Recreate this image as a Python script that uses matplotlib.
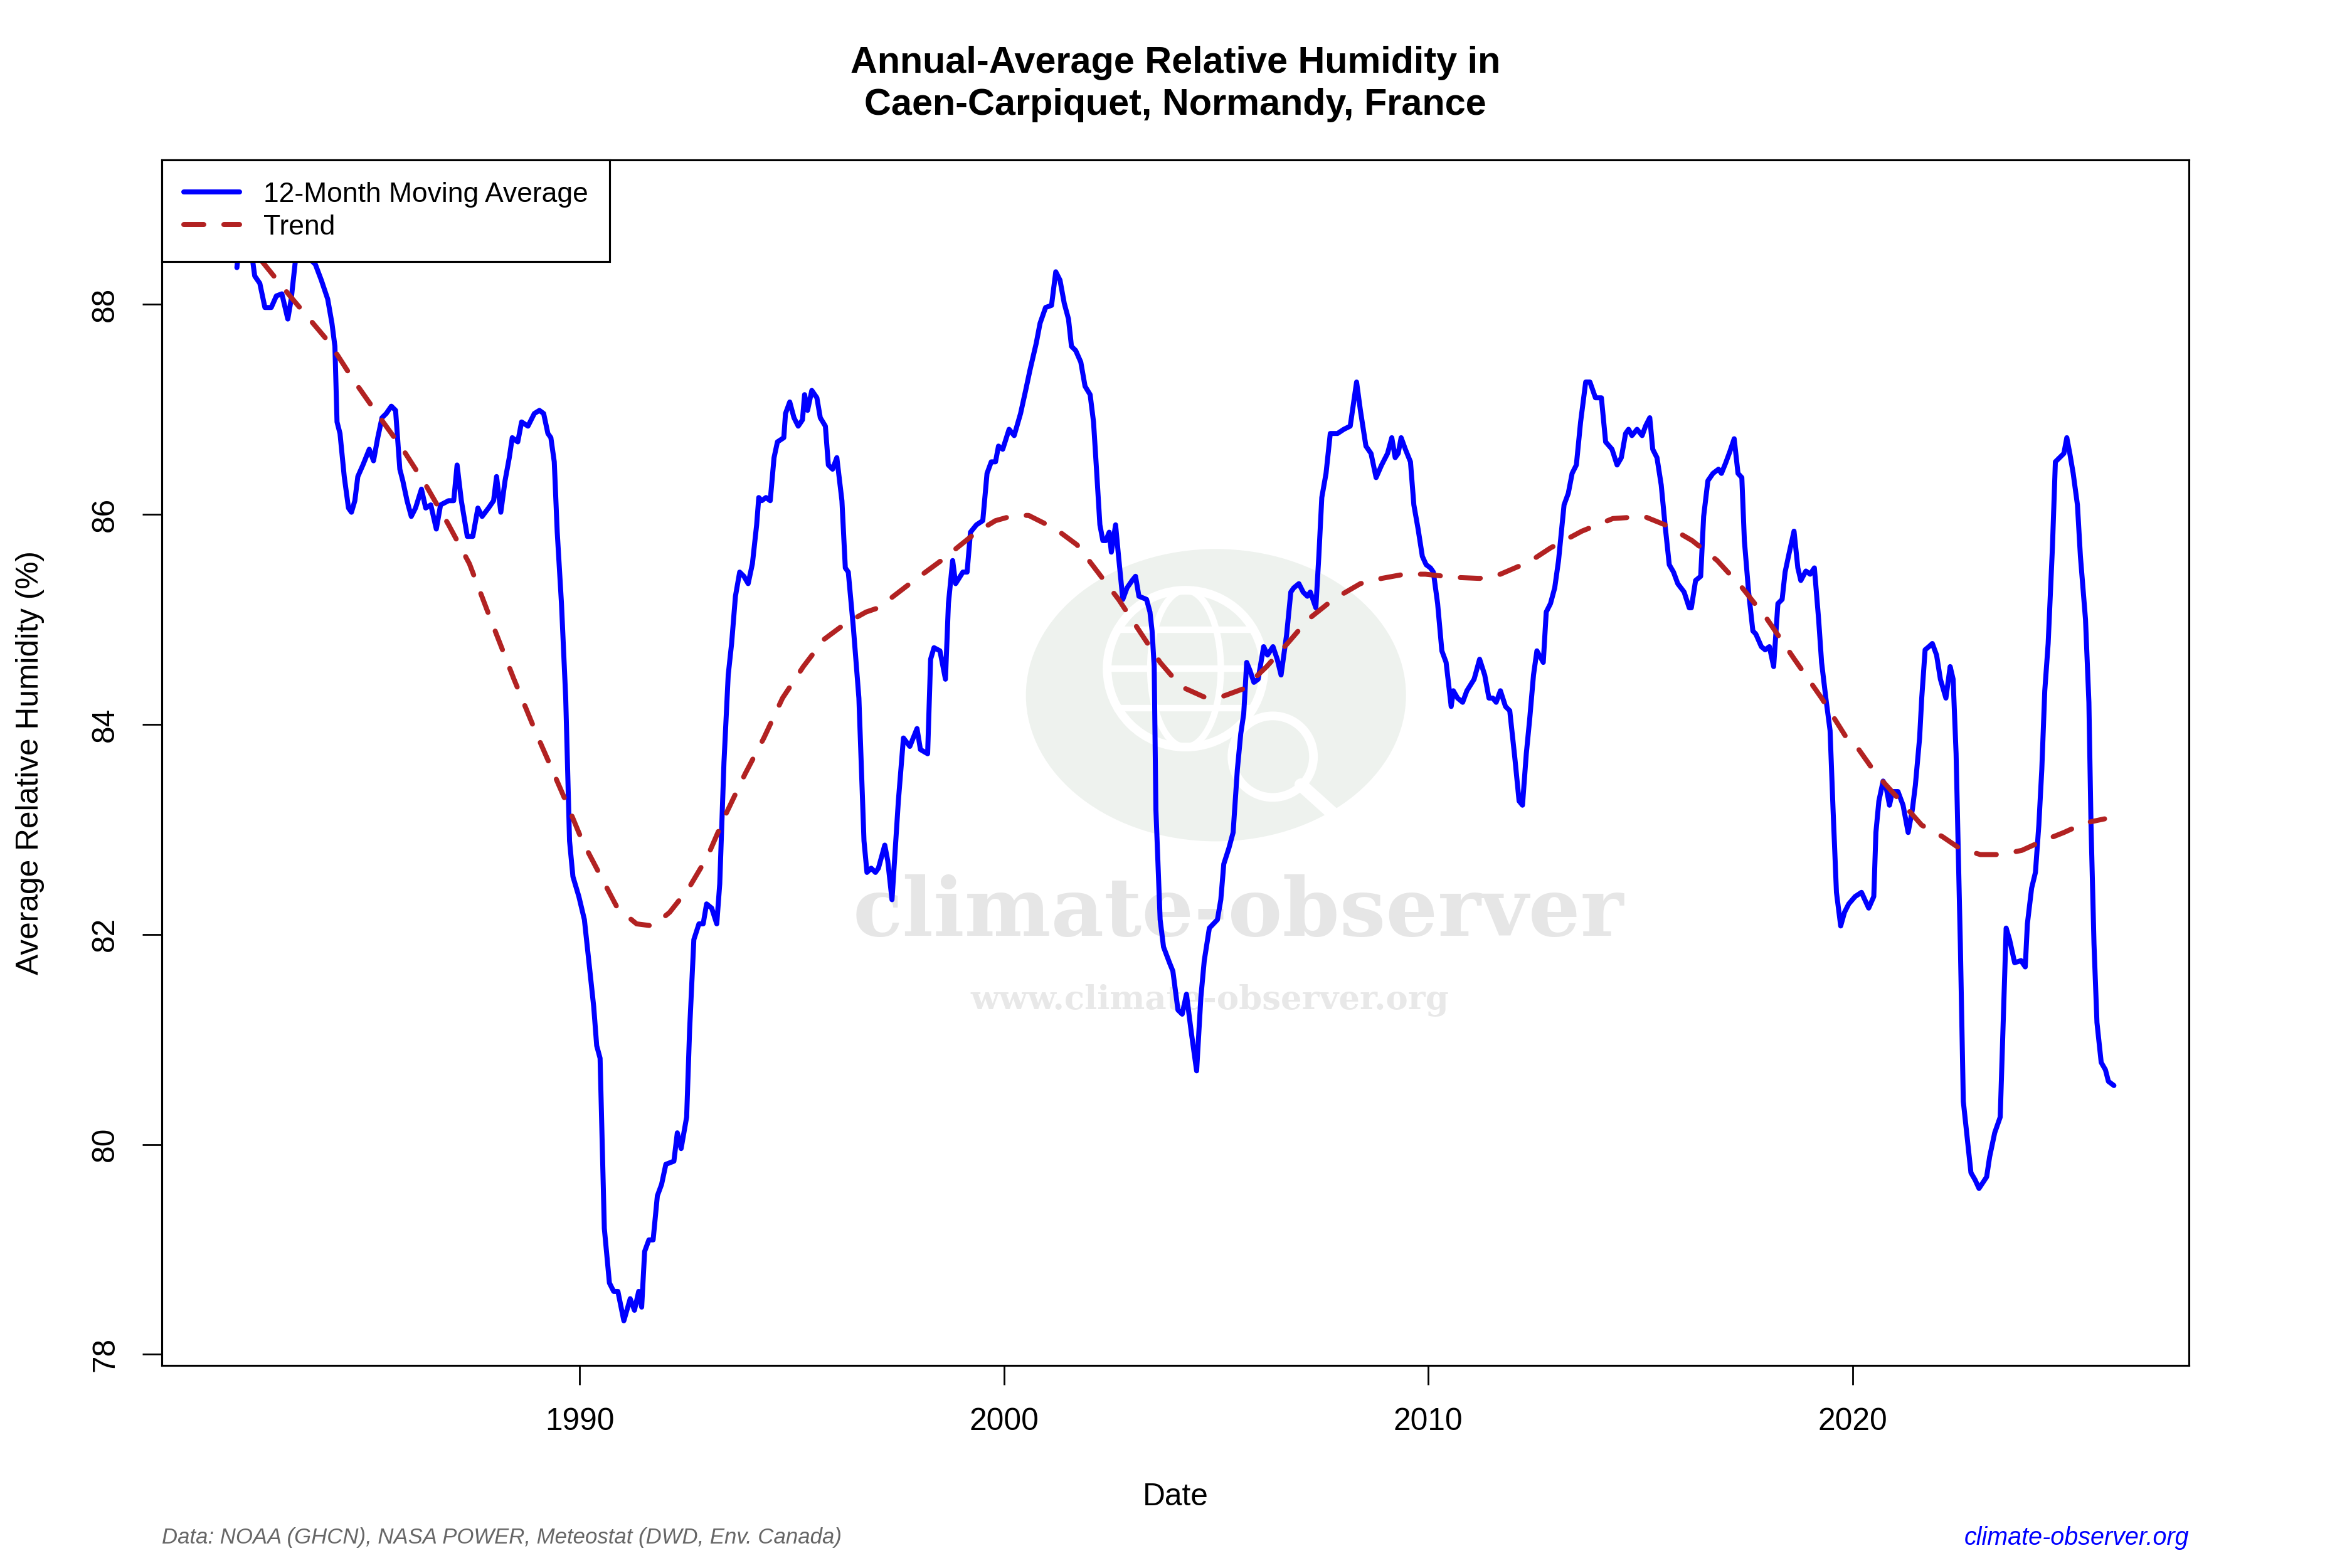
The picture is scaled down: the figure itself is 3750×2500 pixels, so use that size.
import matplotlib
matplotlib.use("Agg")
import matplotlib.pyplot as plt
from matplotlib.patches import Ellipse

plt.rcParams["font.family"] = ["Liberation Sans", "DejaVu Sans"]

# 12-month moving average (decimal year, %)
ma_year = [
    1981.92, 1982.05, 1982.20, 1982.29, 1982.34, 1982.46, 1982.58, 1982.73, 1982.85, 1982.98,
    1983.12, 1983.20, 1983.30, 1983.42, 1983.55, 1983.67, 1983.77, 1983.91, 1984.06, 1984.16,
    1984.23, 1984.28, 1984.35, 1984.45, 1984.55, 1984.62, 1984.70, 1984.77, 1984.89, 1985.04,
    1985.14, 1985.24, 1985.34, 1985.44, 1985.56, 1985.66, 1985.76, 1985.83, 1985.93, 1986.03,
    1986.13, 1986.27, 1986.37, 1986.49, 1986.62, 1986.72, 1986.91, 1987.03, 1987.11, 1987.21,
    1987.35, 1987.48, 1987.60, 1987.70, 1987.85, 1987.97, 1988.04, 1988.14, 1988.24, 1988.34,
    1988.41, 1988.54, 1988.63, 1988.78, 1988.93, 1989.05, 1989.15, 1989.25, 1989.32, 1989.40,
    1989.47, 1989.57, 1989.67, 1989.76, 1989.84, 1989.98, 1990.11, 1990.21, 1990.33, 1990.40,
    1990.48, 1990.58, 1990.70, 1990.80, 1990.90, 1991.04, 1991.19, 1991.29, 1991.39, 1991.46,
    1991.53, 1991.63, 1991.73, 1991.83, 1991.93, 1992.03, 1992.22, 1992.30, 1992.39, 1992.52,
    1992.59, 1992.69, 1992.81, 1992.91, 1992.99, 1993.11, 1993.23, 1993.30, 1993.40, 1993.50,
    1993.58, 1993.67, 1993.77, 1993.87, 1993.97, 1994.07, 1994.17, 1994.22, 1994.29, 1994.39,
    1994.49, 1994.58, 1994.66, 1994.81, 1994.85, 1994.95, 1995.05, 1995.15, 1995.25, 1995.30,
    1995.37, 1995.47, 1995.59, 1995.67, 1995.79, 1995.86, 1995.96, 1996.06, 1996.18, 1996.26,
    1996.33, 1996.45, 1996.58, 1996.70, 1996.77, 1996.87, 1996.97, 1997.04, 1997.19, 1997.26,
    1997.36, 1997.51, 1997.63, 1997.78, 1997.95, 1998.03, 1998.20, 1998.27, 1998.35, 1998.49,
    1998.62, 1998.69, 1998.79, 1998.86, 1999.03, 1999.13, 1999.21, 1999.35, 1999.50, 1999.60,
    1999.70, 1999.80, 1999.87, 1999.97, 2000.12, 2000.24, 2000.39, 2000.51, 2000.61, 2000.76,
    2000.85, 2000.98, 2001.12, 2001.22, 2001.32, 2001.42, 2001.52, 2001.59, 2001.69, 2001.81,
    2001.91, 2002.03, 2002.11, 2002.18, 2002.26, 2002.33, 2002.40, 2002.48, 2002.53, 2002.63,
    2002.70, 2002.80, 2002.90, 2003.02, 2003.10, 2003.18, 2003.36, 2003.44, 2003.49, 2003.54,
    2003.58, 2003.68, 2003.76, 2003.90, 2003.98, 2004.10, 2004.20, 2004.30, 2004.42, 2004.54,
    2004.64, 2004.72, 2004.84, 2005.03, 2005.11, 2005.18, 2005.30, 2005.40, 2005.50, 2005.58,
    2005.65, 2005.72, 2005.80, 2005.89, 2005.99, 2006.12, 2006.21, 2006.34, 2006.44, 2006.53,
    2006.66, 2006.76, 2006.83, 2006.95, 2007.05, 2007.15, 2007.22, 2007.35, 2007.42, 2007.49,
    2007.59, 2007.69, 2007.86, 2008.01, 2008.16, 2008.31, 2008.40, 2008.53, 2008.65, 2008.77,
    2008.90, 2009.04, 2009.14, 2009.22, 2009.29, 2009.36, 2009.46, 2009.58, 2009.66, 2009.76,
    2009.86, 2009.95, 2010.05, 2010.12, 2010.22, 2010.32, 2010.42, 2010.54, 2010.59, 2010.69,
    2010.81, 2010.91, 2011.08, 2011.21, 2011.33, 2011.43, 2011.52, 2011.60, 2011.70, 2011.82,
    2011.92, 2012.04, 2012.14, 2012.22, 2012.31, 2012.39, 2012.48, 2012.56, 2012.71, 2012.78,
    2012.88, 2012.98, 2013.07, 2013.20, 2013.30, 2013.39, 2013.49, 2013.59, 2013.71, 2013.81,
    2013.94, 2014.08, 2014.18, 2014.33, 2014.45, 2014.55, 2014.65, 2014.72, 2014.80, 2014.92,
    2015.04, 2015.12, 2015.22, 2015.29, 2015.39, 2015.49, 2015.58, 2015.68, 2015.78, 2015.88,
    2016.03, 2016.15, 2016.20, 2016.30, 2016.42, 2016.49, 2016.59, 2016.71, 2016.84, 2016.91,
    2017.01, 2017.11, 2017.21, 2017.30, 2017.39, 2017.45, 2017.55, 2017.65, 2017.72, 2017.85,
    2017.94, 2018.04, 2018.14, 2018.24, 2018.34, 2018.41, 2018.51, 2018.62, 2018.71, 2018.78,
    2018.90, 2019.00, 2019.10, 2019.20, 2019.27, 2019.37, 2019.47, 2019.54, 2019.62, 2019.72,
    2019.81, 2019.91, 2020.06, 2020.21, 2020.38, 2020.50, 2020.55, 2020.62, 2020.72, 2020.80,
    2020.87, 2020.94, 2021.07, 2021.19, 2021.31, 2021.41, 2021.48, 2021.58, 2021.63, 2021.71,
    2021.80, 2021.88, 2021.98, 2022.07, 2022.20, 2022.30, 2022.37, 2022.44, 2022.49, 2022.54,
    2022.61, 2022.71, 2022.79, 2022.89, 2022.98, 2023.16, 2023.23, 2023.35, 2023.48, 2023.55,
    2023.62, 2023.70, 2023.82, 2023.97, 2024.07, 2024.12, 2024.22, 2024.31, 2024.39, 2024.46,
    2024.53, 2024.61, 2024.71, 2024.78, 2024.88, 2024.98, 2025.05, 2025.12, 2025.20, 2025.30,
    2025.37, 2025.49, 2025.57, 2025.62, 2025.69, 2025.76, 2025.86, 2025.96, 2026.03, 2026.16,
]
ma_value = [
    88.35, 88.90, 88.80, 88.42, 88.27, 88.20, 87.97, 87.97, 88.08, 88.10,
    87.86, 88.05, 88.42, 88.95, 88.90, 88.42, 88.38, 88.23, 88.05, 87.82,
    87.60, 86.88, 86.77, 86.36, 86.06, 86.02, 86.13, 86.36, 86.47, 86.62,
    86.51, 86.73, 86.92, 86.96, 87.03, 86.99, 86.43, 86.32, 86.13, 85.98,
    86.06, 86.24, 86.06, 86.09, 85.86, 86.09, 86.13, 86.13, 86.47, 86.13,
    85.79, 85.79, 86.06, 85.98, 86.06, 86.13, 86.36, 86.02, 86.32, 86.54,
    86.73, 86.69, 86.88, 86.84, 86.96, 86.99, 86.96, 86.77, 86.73, 86.50,
    85.83, 85.15, 84.25, 82.89, 82.55, 82.36, 82.14, 81.76, 81.31, 80.94,
    80.82, 79.20, 78.68, 78.60, 78.60, 78.32, 78.53, 78.42, 78.60, 78.45,
    78.98, 79.09, 79.09, 79.51, 79.62, 79.81, 79.84, 80.11, 79.96, 80.26,
    81.09, 81.95, 82.10, 82.10, 82.29, 82.25, 82.10, 82.48, 83.64, 84.47,
    84.77, 85.22, 85.45, 85.41, 85.34, 85.53, 85.90, 86.16, 86.13, 86.16,
    86.13, 86.54, 86.69, 86.73, 86.96, 87.07, 86.92, 86.84, 86.90, 87.14,
    86.99, 87.18, 87.11, 86.92, 86.84, 86.47, 86.43, 86.54, 86.13, 85.49,
    85.45, 84.92, 84.25, 82.89, 82.59, 82.63, 82.59, 82.63, 82.85, 82.70,
    82.33, 83.27, 83.87, 83.79, 83.96, 83.76, 83.72, 84.62, 84.73, 84.70,
    84.43, 85.15, 85.56, 85.34, 85.45, 85.45, 85.83, 85.90, 85.94, 86.39,
    86.50, 86.50, 86.65, 86.62, 86.81, 86.75, 86.96, 87.18, 87.37, 87.63,
    87.82, 87.97, 87.99, 88.31, 88.23, 88.01, 87.86, 87.60, 87.56, 87.45,
    87.22, 87.14, 86.88, 86.43, 85.90, 85.75, 85.75, 85.83, 85.64, 85.90,
    85.60, 85.19, 85.30, 85.37, 85.41, 85.22, 85.19, 85.07, 84.89, 84.55,
    83.19, 82.14, 81.88, 81.73, 81.65, 81.28, 81.24, 81.43, 81.05, 80.70,
    81.40, 81.75, 82.06, 82.14, 82.33, 82.67, 82.82, 82.97, 83.57, 83.91,
    84.10, 84.59, 84.51, 84.40, 84.43, 84.74, 84.66, 84.74, 84.62, 84.47,
    84.85, 85.26, 85.30, 85.34, 85.26, 85.22, 85.26, 85.11, 85.60, 86.16,
    86.39, 86.77, 86.77, 86.81, 86.84, 87.26, 86.99, 86.65, 86.58, 86.35,
    86.47, 86.58, 86.73, 86.54, 86.58, 86.73, 86.62, 86.50, 86.09, 85.86,
    85.60, 85.52, 85.49, 85.45, 85.15, 84.70, 84.59, 84.17, 84.32, 84.25,
    84.21, 84.32, 84.43, 84.62, 84.47, 84.25, 84.25, 84.21, 84.32, 84.17,
    84.13, 83.68, 83.27, 83.23, 83.72, 84.05, 84.47, 84.70, 84.59, 85.07,
    85.15, 85.30, 85.56, 86.09, 86.20, 86.39, 86.47, 86.88, 87.26, 87.26,
    87.11, 87.11, 86.69, 86.62, 86.47, 86.54, 86.77, 86.81, 86.75, 86.81,
    86.75, 86.84, 86.92, 86.62, 86.54, 86.28, 85.90, 85.52, 85.45, 85.34,
    85.26, 85.11, 85.11, 85.37, 85.41, 85.98, 86.32, 86.39, 86.43, 86.39,
    86.49, 86.60, 86.72, 86.39, 86.35, 85.75, 85.26, 84.89, 84.86, 84.74,
    84.71, 84.74, 84.55, 85.15, 85.19, 85.45, 85.64, 85.84, 85.49, 85.37,
    85.46, 85.43, 85.49, 85.00, 84.59, 84.25, 83.94, 83.19, 82.40, 82.08,
    82.21, 82.29, 82.36, 82.40, 82.25, 82.36, 82.97, 83.27, 83.46, 83.38,
    83.23, 83.36, 83.36, 83.23, 82.97, 83.19, 83.42, 83.87, 84.25, 84.71,
    84.74, 84.77, 84.66, 84.43, 84.25, 84.55, 84.43, 83.72, 82.82, 81.91,
    80.41, 80.03, 79.73, 79.66, 79.58, 79.69, 79.88, 80.11, 80.26, 81.16,
    82.06, 81.95, 81.73, 81.75, 81.69, 82.10, 82.44, 82.59, 83.04, 83.57,
    84.32, 84.77, 85.68, 86.50, 86.54, 86.58, 86.73, 86.58, 86.39, 86.09,
    85.60, 85.00, 84.21, 83.04, 81.91, 81.16, 80.78, 80.71, 80.60, 80.56,
]

# smoothed trend
trend_year = [
    1981.92, 1982.49, 1983.17, 1984.11, 1984.65, 1985.24, 1985.83, 1986.37, 1986.91, 1987.40,
    1987.90, 1988.44, 1988.98, 1989.37, 1989.67, 1990.06, 1990.50, 1990.89, 1991.34, 1991.73,
    1992.12, 1992.57, 1993.01, 1993.45, 1993.90, 1994.34, 1994.78, 1995.27, 1995.76, 1996.26,
    1996.75, 1997.04, 1997.78, 1998.52, 1999.35, 1999.80, 2000.24, 2000.58, 2001.22, 2001.72,
    2002.21, 2002.70, 2003.19, 2003.68, 2004.17, 2004.72, 2005.11, 2005.65, 2006.19, 2006.68,
    2007.17, 2007.76, 2008.40, 2008.90, 2009.44, 2009.93, 2010.62, 2011.21, 2011.70, 2012.39,
    2012.88, 2013.62, 2014.35, 2015.09, 2015.58, 2016.22, 2016.81, 2017.40, 2017.99, 2018.63,
    2019.27, 2019.86, 2020.06, 2020.55, 2021.04, 2021.63, 2022.12, 2022.52, 2023.01, 2023.50,
    2023.99, 2024.48, 2024.98, 2025.47, 2025.94,
]
trend_value = [
    88.72, 88.42, 88.08, 87.63, 87.29, 86.95, 86.62, 86.28, 85.90, 85.53,
    85.00, 84.44, 83.91, 83.55, 83.27, 82.89, 82.55, 82.25, 82.10, 82.08,
    82.21, 82.44, 82.74, 83.15, 83.53, 83.87, 84.25, 84.55, 84.81, 84.96,
    85.07, 85.11, 85.34, 85.56, 85.83, 85.94, 85.99, 85.99, 85.86, 85.71,
    85.45, 85.19, 84.89, 84.59, 84.36, 84.26, 84.26, 84.34, 84.55, 84.77,
    85.00, 85.19, 85.34, 85.39, 85.43, 85.43, 85.40, 85.39, 85.43, 85.55,
    85.68, 85.84, 85.96, 85.98, 85.90, 85.75, 85.56, 85.30, 85.00, 84.62,
    84.25, 83.87, 83.81, 83.53, 83.31, 83.04, 82.93, 82.82, 82.76, 82.76,
    82.80, 82.89, 82.97, 83.06, 83.10,
]

x_ticks = [1990, 2000, 2010, 2020]
y_ticks = [78, 80, 82, 84, 86, 88]

fig = plt.figure(figsize=(15, 10), dpi=250)
ax = fig.add_axes([0.0688, 0.1292, 0.8619, 0.7688])

# watermark (logo + site name), behind the data
ax.add_patch(Ellipse((0.520, 0.556), 0.1875, 0.2425, transform=ax.transAxes,
                     facecolor="#EEF2EE", edgecolor="none", zorder=0))
r = 125
gx, gy = 0.505, 0.578
ax.add_patch(Ellipse((gx, gy), 2 * r / 3232, 2 * r / 1922, transform=ax.transAxes,
                     facecolor="none", edgecolor="white", lw=4, zorder=0.5))
ax.add_patch(Ellipse((gx, gy), 0.9 * r / 3232, 2 * r / 1922, transform=ax.transAxes,
                     facecolor="none", edgecolor="white", lw=3, zorder=0.5))
for dy in [-0.5, 0, 0.5]:
    half = (1 - dy ** 2) ** 0.5 * r / 3232
    ax.plot([gx - half, gx + half], [gy + dy * r / 1922] * 2, transform=ax.transAxes,
            color="white", lw=3, zorder=0.5)
mx, my = 0.548, 0.505
ax.add_patch(Ellipse((mx, my), 130 / 3232, 130 / 1922, transform=ax.transAxes,
                     facecolor="#EEF2EE", edgecolor="white", lw=4, zorder=0.6))
ax.plot([mx + 45 / 3232, mx + 95 / 3232], [my - 45 / 1922, my - 90 / 1922],
        transform=ax.transAxes, color="white", lw=6, solid_capstyle="round", zorder=0.6)

wm1 = ax.text(0.531, 0.375, "climate-observer", transform=ax.transAxes, ha="center",
              va="center", family="DejaVu Serif", weight="bold", color="#E6E6E6",
              fontsize=36, zorder=0.7)
wm2 = ax.text(0.517, 0.303, "www.climate-observer.org", transform=ax.transAxes,
              ha="center", va="center", family="DejaVu Serif", weight="bold",
              color="#E8E8E8", fontsize=14, zorder=0.7)

ax.plot(ma_year, ma_value, color="blue", lw=2.3, solid_joinstyle="round",
        solid_capstyle="round", label="12-Month Moving Average", zorder=3)
ax.plot(trend_year, trend_value, color="#B22222", lw=2.3, ls=(0, (4, 4)),
        dash_capstyle="round", label="Trend", zorder=3)

# R style limits: data range + 4%
all_y = ma_value + trend_value
ylo, yhi = min(all_y), max(all_y)
ax.set_ylim(ylo - 0.04 * (yhi - ylo), yhi + 0.04 * (yhi - ylo))
xlo, xhi = min(ma_year), max(ma_year)
ax.set_xlim(xlo - 0.04 * (xhi - xlo), xhi + 0.04 * (xhi - xlo))

ax.set_xticks(x_ticks)
ax.set_yticks(y_ticks)
ax.tick_params(direction="out", length=8.9, width=0.8, labelsize=14.3,
               top=False, right=False, pad=17)
for lbl in ax.get_yticklabels():
    lbl.set_rotation(90)
    lbl.set_ha("center")
    lbl.set_va("center")
for lbl in ax.get_xticklabels():
    lbl.set_va("center")
for sp in ax.spines.values():
    sp.set_linewidth(0.9)

ax.set_xlabel("Date", fontsize=14.3)
ax.xaxis.set_label_coords(0.5, -0.1093)
ax.xaxis.label.set_va("center")
ax.set_ylabel("Average Relative Humidity (%)", fontsize=14.3)
ax.yaxis.set_label_coords(-0.065, 0.5)
ax.yaxis.label.set_va("center")

leg = ax.legend(loc="upper left", borderaxespad=0, fontsize=12.8, fancybox=False,
                edgecolor="black", framealpha=1, handlelength=2.0, handletextpad=0.86,
                borderpad=0.78, labelspacing=0.25)
leg.get_frame().set_linewidth(0.9)
leg.set_zorder(5)

fig.text(0.4997, 0.9464, "Annual-Average Relative Humidity in\nCaen-Carpiquet, Normandy, France",
         ha="center", va="center", fontsize=17.1, weight="bold", linespacing=1.3)
fig.text(258 / 3750, 1 - 2452 / 2500, "Data: NOAA (GHCN), NASA POWER, Meteostat (DWD, Env. Canada)",
         ha="left", va="center", style="italic", color="#666666", fontsize=10.0)
fig.text(3490 / 3750, 1 - 2452 / 2500, "climate-observer.org", ha="right", va="center",
         style="italic", color="blue", fontsize=11.4)

# size the watermark text to its width in the reference
fig.canvas.draw()
for t, target in [(wm1, 1229), (wm2, 764)]:
    w = t.get_window_extent().width
    t.set_fontsize(t.get_fontsize() * target / w)

fig.savefig("out.png", dpi=250)
